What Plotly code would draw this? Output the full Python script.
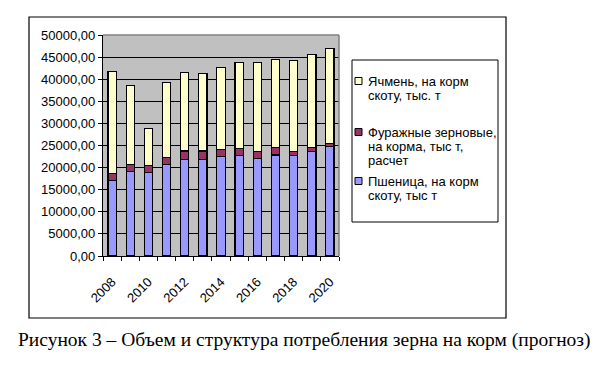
import plotly.graph_objects as go

years = [2008, 2009, 2010, 2011, 2012, 2013, 2014, 2015, 2016, 2017, 2018, 2019, 2020]
wheat = [17100, 19200, 18900, 20700, 21900, 21900, 22550, 22750, 22100, 22850, 22750, 23700, 24800]
feed = [1600, 1550, 1600, 1600, 1850, 1850, 1600, 1600, 1600, 1750, 950, 900, 700]
barley = [23000, 17750, 8400, 17000, 17750, 17550, 18550, 19450, 20050, 19900, 20600, 20900, 21500]

name_wheat = "Пшеница, на корм\nскоту, тыс т"
name_feed = "Фуражные зерновые,\nна корма, тыс т,\nрасчет"
name_barley = "Ячмень, на корм\nскоту, тыс. т"
caption = "Рисунок 3 – Объем и структура потребления зерна на корм (прогноз)"

col_wheat = "#9999FF"
col_feed = "#993366"
col_barley = "#FFFFCC"

x_labels = [str(y) for y in years[::2]]

fig = go.Figure()
for vals, nm, col in [(wheat, name_wheat, col_wheat), (feed, name_feed, col_feed), (barley, name_barley, col_barley)]:
    fig.add_trace(go.Bar(x=years, y=vals, name=nm.replace("\n", " "), marker=dict(color=col, line=dict(color="black", width=1.2)),
                         showlegend=False))

L, R, T, B = 103, 269, 35, 111
W, H = 608, 367
pw = W - L - R
ph = H - T - B

def px(xp):
    return (xp - L) / pw

def py(yp):
    return (H - B - yp) / ph

shapes = []
annotations = []
# outer border
shapes.append(dict(type="rect", xref="paper", yref="paper", x0=px(29), x1=px(506), y0=py(318), y1=py(17),
                   line=dict(color="black", width=1.2), layer="below"))
# plot area top/right gray border
shapes.append(dict(type="line", xref="paper", yref="paper", x0=0, x1=1, y0=1, y1=1, line=dict(color="#808080", width=1.5)))
shapes.append(dict(type="line", xref="paper", yref="paper", x0=1, x1=1, y0=0, y1=1, line=dict(color="#808080", width=1.5)))
# legend box
shapes.append(dict(type="rect", xref="paper", yref="paper", x0=px(352), x1=px(498), y0=py(222), y1=py(60),
                   line=dict(color="black", width=1), fillcolor="white"))

legend_entries = [(name_barley, col_barley, [81, 95]),
                  (name_feed, col_feed, [132, 146, 160]),
                  (name_wheat, col_wheat, [181, 195.5])]
for nm, col, ys in legend_entries:
    lines = nm.split("\n")
    shapes.append(dict(type="rect", xref="paper", yref="paper", x0=px(355), x1=px(362), y0=py(ys[0] + 3.5), y1=py(ys[0] - 3.5),
                       line=dict(color="black", width=1), fillcolor=col))
    for ln, yy in zip(lines, ys):
        annotations.append(dict(text=ln, xref="paper", yref="paper", x=px(366), y=py(yy), xanchor="left", yanchor="middle",
                                showarrow=False, font=dict(family="Arial, Liberation Sans", size=13, color="black")))

annotations.append(dict(text=caption, xref="paper", yref="paper", x=px(304), y=py(340), xanchor="center", yanchor="middle",
                        showarrow=False, font=dict(family="Times New Roman, Liberation Serif", size=19.5, color="black")))

fig.update_layout(
    width=W, height=H,
    margin=dict(l=L, r=R, t=T, b=B, pad=0),
    paper_bgcolor="white",
    plot_bgcolor="#C0C0C0",
    barmode="stack",
    bargap=0.545,
    separators=", ",
    font=dict(family="Arial, Liberation Sans", size=13, color="black"),
    shapes=shapes,
    annotations=annotations,
)
fig.update_xaxes(
    range=[years[0] - 0.5, years[-1] + 0.5],
    tickmode="array", tickvals=years[::2], ticktext=x_labels,
    tickangle=-45, ticks="outside", ticklen=12, tickcolor="rgba(0,0,0,0)",
    showgrid=False, zeroline=False,
    showline=True, linecolor="black", linewidth=1.2,
    minor=dict(tickmode="linear", tick0=years[0] - 0.5, dtick=1, ticks="outside", ticklen=4, tickcolor="black", tickwidth=1, showgrid=False),
    tickfont=dict(size=13),
)
fig.update_yaxes(
    range=[0, 50000], dtick=5000, tick0=0, tickformat=".2f",
    ticks="outside", ticklen=4, tickcolor="black",
    showgrid=True, gridcolor="black", gridwidth=1,
    zeroline=False, showline=True, linecolor="black", linewidth=1.2,
    tickfont=dict(size=13),
)

fig.write_html("out.html", config={"displayModeBar": False},
               post_script="document.body.style.margin='0px';document.body.style.padding='0px';")
